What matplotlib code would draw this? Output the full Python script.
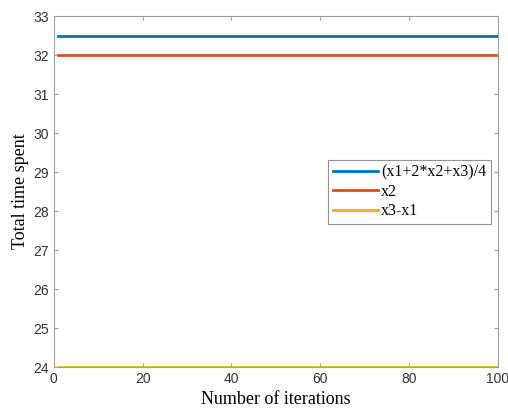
import matplotlib.pyplot as plt

# total time per iteration for each estimate
iterations = list(range(1, 101))
avg_time = [32.5] * 100
x2_time = [32.0] * 100
diff_time = [24.0] * 100

labels = ["(x1+2*x2+x3)/4", "x2", "x3-x1"]
colors = ["#0072bd", "#d95319", "#edb120"]

fig = plt.figure(figsize=(5.08, 4.11), dpi=100)
ax = fig.add_axes([0.106, 0.107, 0.874, 0.854])

for y, lab, c in zip([avg_time, x2_time, diff_time], labels, colors):
    ax.plot(iterations, y, color=c, linewidth=2, label=lab)

ax.set_xlim(0, 100)
ax.set_ylim(24, 33)
ax.set_xticks([0, 20, 40, 60, 80, 100])
ax.set_yticks(range(24, 34))

edge = "#a0a0a0"
for s in ax.spines.values():
    s.set_color(edge)
    s.set_linewidth(0.8)
ax.tick_params(direction="in", length=3, color=edge, labelcolor="#333333",
               labelsize=10, top=True, right=True)
for t in ax.get_xticklabels() + ax.get_yticklabels():
    t.set_fontfamily("Liberation Sans")

ax.set_xlabel("Number of iterations", fontsize=13, family="Liberation Serif", labelpad=4)
ax.set_ylabel("Total time spent", fontsize=13, family="Liberation Serif", labelpad=3)

leg = ax.legend(loc="upper left", bbox_to_anchor=(0.618, 0.59), frameon=True,
                fancybox=False, prop={"family": "Liberation Serif", "size": 11.5},
                handlelength=2.8, handletextpad=0.2, borderpad=0.3,
                labelspacing=0.2, borderaxespad=0)
leg.get_frame().set_edgecolor("#777777")
leg.get_frame().set_linewidth(0.8)

fig.savefig("out.png", dpi=100)
